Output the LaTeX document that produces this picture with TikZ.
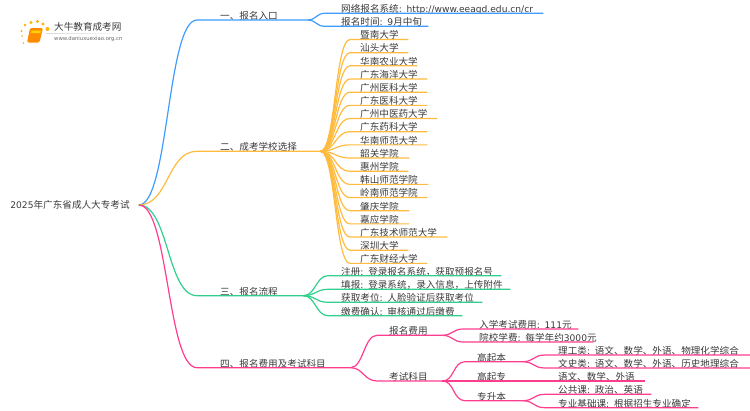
\documentclass[tikz,border=0pt]{standalone}
\usepackage{fontspec}
\setmainfont{Noto Sans CJK SC}
\newfontfamily\dv[Scale=0.95]{DejaVu Sans}
\usetikzlibrary{shadings}

\definecolor{bluebr}{HTML}{3F9CFF}
\definecolor{orangebr}{HTML}{FFBB3D}
\definecolor{greenbr}{HTML}{2FCF8D}
\definecolor{pinkbr}{HTML}{FF3D8F}
\definecolor{inktxt}{HTML}{3A3A3A}

\tikzset{
  label/.style={anchor=south west, inner xsep=0pt, inner ysep=0pt, text height=8.5pt, text depth=.5pt,
    font=\fontsize{9.6}{11}\selectfont, text=inktxt, align=left},
  % #1 length of the underline, text pushed in by \hspace
  topic/.style={label, text width=#1, execute at begin node={\hspace*{23pt}}},
  item/.style={label, text width=#1, execute at begin node={\hspace*{10pt}}},
  sub/.style={label, text width=#1, execute at begin node={\hspace*{12pt}}},
  br/.style={line width=1.2pt},
  curve/.style={to path={.. controls +(#1,0) and +(-#1,0) .. (\tikztotarget)}}
}

\begin{document}
\begin{tikzpicture}[x=1pt,y=-1pt]
  \useasboundingbox (0,0) rectangle (750,410);

  % logo
  \fill[orange!90!yellow, rounded corners=1.5pt] (30,28) -- (43,28) -- (39.5,42.5) -- (27,42.5) -- cycle;
  \fill[yellow!70!orange] (31.5,30.5) -- (41,30.5) -- (40.4,33) -- (30.9,33) -- cycle;
  \foreach \px/\py/\pr in {21.5/31/1.2, 22/36/.9, 23.5/43/.8, 25/25/1.3, 31/22.5/1.6, 37.5/21.5/1.7, 43/24/1.7, 47.5/29/2}
    \fill[orange!60!yellow] (\px,\py) circle (\pr);
  \node[anchor=west, inner sep=0pt, font=\fontsize{9.6}{11}\selectfont, text=inktxt] (logotxt) at (54,27) {大牛教育成考网};
  \node[anchor=west, inner sep=0pt, font=\dv\fontsize{5.6}{6}\selectfont, text=black!60] (logourl) at (54,39) {www.daniuxuexiao.org.cn};
  \shade[left color=black!15, right color=white] (46,33) rectangle (132,33.5);

  % root
  \node[font=\fontsize{9.6}{11}\selectfont, text=inktxt, inner xsep=9pt, inner ysep=0pt] (root) at (70,205) {{\dv 2025}年广东省成人大专考试};

  % branch 1
  \node[topic=110pt] (one) at (197,20) {一、报名入口};
  \node[item=218pt] (site) at (325,13.3) {\hspace*{6pt}网络报名系统{\dv: http://www.eeagd.edu.cn/cr}};
  \node[item=103pt] (time) at (325,26.3) {\hspace*{6pt}报名时间{\dv: 9}月中旬};
  \draw[br,bluebr] (root.east) to[curve=30] (one.south west) -- (one.south east);
  \foreach \n in {site,time}
    \draw[br,bluebr] (one.south east) to[curve=9] (\n.south west) -- (\n.south east);

  % branch 2
  \node[topic=123pt] (two) at (197,151.3) {二、成考学校选择};
  \draw[br,orangebr] (root.east) to[curve=30] (two.south west) -- (two.south east);
  \foreach \i/\w/\t in {0/58/暨南大学, 1/58/汕头大学, 2/67/华南农业大学, 3/77/广东海洋大学, 4/77/广州医科大学,
      5/77/广东医科大学, 6/87/广州中医药大学, 7/77/广东药科大学, 8/77/华南师范大学, 9/59/韶关学院,
      10/58/惠州学院, 11/78/韩山师范学院, 12/77/岭南师范学院, 13/59/肇庆学院, 14/59/嘉应学院,
      15/97/广东技术师范大学, 16/58/深圳大学, 17/77/广东财经大学}
  {
    \node[item=\w pt] (sch\i) at (350,39.5+13.17*\i) {\t};
    \draw[br,orangebr] (two.south east) to[curve=15] (sch\i.south west) -- (sch\i.south east);
  }

  % branch 3
  \node[topic=106pt] (three) at (197,295.7) {三、报名流程};
  \draw[br,greenbr] (root.east) to[curve=30] (three.south west) -- (three.south east);
  \node[item=173pt] (reg) at (328,275.7) {\hspace*{3pt}注册{\dv: }登录报名系统，获取预报名号};
  \node[item=182pt] (fill) at (328,289.3) {\hspace*{3pt}填报{\dv: }登录系统，录入信息，上传附件};
  \node[item=154pt] (seat) at (328,302.3) {\hspace*{3pt}获取考位{\dv: }人脸验证后获取考位};
  \node[item=134pt] (pay) at (328,315.7) {\hspace*{3pt}缴费确认{\dv: }审核通过后缴费};
  \foreach \n in {reg,fill,seat,pay}
    \draw[br,greenbr] (three.south east) to[curve=12] (\n.south west) -- (\n.south east);

  % branch 4
  \node[topic=153pt] (four) at (197,367.7) {四、报名费用及考试科目};
  \draw[br,pinkbr] (root.east) to[curve=30] (four.south west) -- (four.south east);
  \node[sub=65pt] (fee) at (377,335.3) {报名费用};
  \node[sub=65pt] (subj) at (377,381) {考试科目};
  \foreach \n in {fee,subj}
    \draw[br,pinkbr] (four.south east) to[curve=13] (\n.south west) -- (\n.south east);
  \node[item=115pt] (fee1) at (463,329) {\hspace*{6pt}\mbox{入学考试费用{\dv: 111}元}};
  \node[item=130pt] (fee2) at (463,342) {\hspace*{6pt}\mbox{院校学费{\dv: }每学年约{\dv 3000}元}};
  \foreach \n in {fee1,fee2}
    \draw[br,pinkbr] (fee.south east) to[curve=10] (\n.south west) -- (\n.south east);
  \node[sub=57pt] (gqb) at (465,361.7) {高起本};
  \node[sub=180pt] (gqz) at (465,381) {\mbox{高起专\hspace*{52pt}语文、数学、外语}};
  \node[sub=57pt] (zsb) at (465,400.7) {专升本};
  \foreach \n in {gqb,gqz,zsb}
    \draw[br,pinkbr] (subj.south east) to[curve=12] (\n.south west) -- (\n.south east);
  \node[item=205pt] (lg) at (545,355) {\hspace*{3pt}\mbox{理工类{\dv: }语文、数学、外语、物理化学综合}};
  \node[item=205pt] (ws) at (545,368) {\hspace*{3pt}\mbox{文史类{\dv: }语文、数学、外语、历史地理综合}};
  \foreach \n in {lg,ws}
    \draw[br,pinkbr] (gqb.south east) to[curve=12] (\n.south west) -- (\n.south east);
  \node[item=106pt] (gg) at (545,394.3) {\hspace*{3pt}\mbox{公共课{\dv: }政治、英语}};
  \node[item=153pt] (zy) at (545,407.7) {\hspace*{3pt}\mbox{专业基础课{\dv: }根据招生专业确定}};
  \foreach \n in {gg,zy}
    \draw[br,pinkbr] (zsb.south east) to[curve=12] (\n.south west) -- (\n.south east);
\end{tikzpicture}
\end{document}
